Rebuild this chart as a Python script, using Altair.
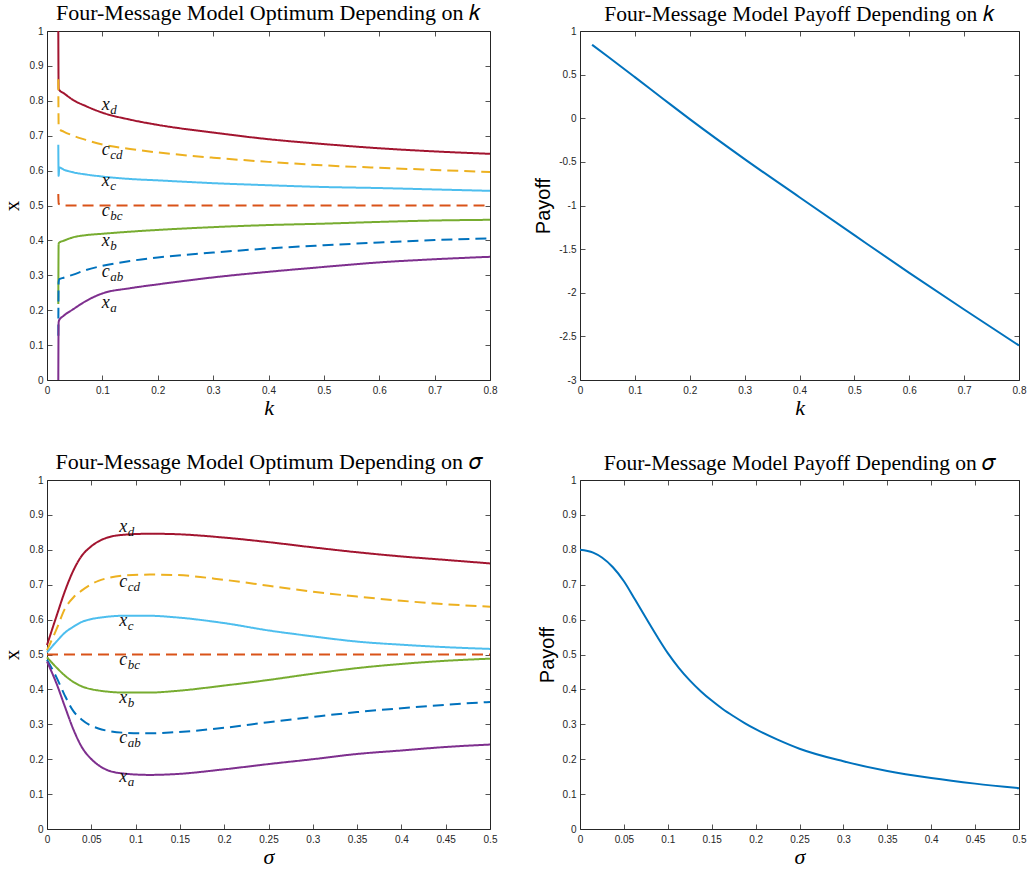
import altair as alt
import pandas as pd

# ---------------- data ----------------
SERIES = ["x_d", "c_cd", "x_c", "c_bc", "x_b", "c_ab", "x_a"]
MAIN = ["x", "c", "x", "c", "x", "c", "x"]
SUB = ["d", "cd", "c", "bc", "b", "ab", "a"]

# Optimum depending on k
k_vals = [0.0204, 0.0210, 0.0222, 0.03, 0.0475, 0.07, 0.1, 0.15, 0.2, 0.3, 0.4, 0.5, 0.6, 0.7, 0.8]
k_xd = [1.0, 0.835, 0.831, 0.822, 0.802, 0.785, 0.766, 0.746, 0.731, 0.709, 0.690, 0.676, 0.664, 0.655, 0.648]
k_ccd = [0.862, 0.730, 0.719, 0.712, 0.700, 0.688, 0.675, 0.662, 0.652, 0.637, 0.625, 0.615, 0.608, 0.602, 0.596]
k_xc = [0.674, 0.585, 0.609, 0.603, 0.595, 0.589, 0.583, 0.576, 0.572, 0.564, 0.558, 0.553, 0.550, 0.546, 0.542]
k_cbc = [0.533, 0.505, 0.504, 0.500, 0.500, 0.500, 0.500, 0.500, 0.500, 0.500, 0.500, 0.500, 0.500, 0.500, 0.500]
k_xb = [0.218, 0.390, 0.394, 0.399, 0.409, 0.415, 0.419, 0.425, 0.430, 0.438, 0.444, 0.448, 0.453, 0.457, 0.459]
k_cab = [0.127, 0.280, 0.289, 0.293, 0.302, 0.315, 0.327, 0.341, 0.351, 0.365, 0.377, 0.386, 0.394, 0.401, 0.406]
k_xa = [0.0, 0.165, 0.172, 0.184, 0.203, 0.226, 0.248, 0.263, 0.274, 0.294, 0.310, 0.324, 0.337, 0.346, 0.353]
k_label_x = [0.099] * 7
k_label_y = [0.774, 0.645, 0.557, 0.469, 0.385, 0.294, 0.205]

# Optimum depending on sigma
s_vals = [0, 0.011, 0.020, 0.030, 0.039, 0.049, 0.058, 0.067, 0.086, 0.116, 0.143,
          0.2, 0.25, 0.3, 0.35, 0.4, 0.45, 0.5]
s_xd = [0.527, 0.612, 0.680, 0.742, 0.782, 0.808, 0.824, 0.834, 0.843, 0.846, 0.845,
        0.835, 0.822, 0.807, 0.793, 0.781, 0.771, 0.761]
s_ccd = [0.512, 0.574, 0.630, 0.664, 0.683, 0.700, 0.711, 0.718, 0.726, 0.729, 0.728,
         0.714, 0.697, 0.680, 0.666, 0.654, 0.644, 0.637]
s_xc = [0.506, 0.538, 0.562, 0.580, 0.593, 0.601, 0.605, 0.608, 0.611, 0.611, 0.607,
        0.590, 0.569, 0.552, 0.537, 0.528, 0.521, 0.516]
s_cbc = [0.500] * 18
s_xb = [0.492, 0.462, 0.440, 0.421, 0.409, 0.401, 0.397, 0.394, 0.391, 0.391, 0.395,
        0.411, 0.427, 0.445, 0.461, 0.473, 0.482, 0.488]
s_cab = [0.485, 0.433, 0.383, 0.337, 0.314, 0.297, 0.288, 0.282, 0.276, 0.274, 0.277,
         0.290, 0.306, 0.321, 0.335, 0.346, 0.356, 0.364]
s_xa = [0.480, 0.415, 0.352, 0.284, 0.236, 0.203, 0.183, 0.170, 0.159, 0.155, 0.157,
        0.171, 0.186, 0.200, 0.215, 0.225, 0.235, 0.242]
s_label_x = [0.0816] * 7
s_label_y = [0.851, 0.692, 0.581, 0.469, 0.361, 0.246, 0.134]

# Payoff depending on k
pk_k = [0.022, 0.05, 0.1, 0.15, 0.2, 0.3, 0.4, 0.5, 0.6, 0.7, 0.8]
pk_pay = [0.842, 0.710, 0.471, 0.230, -0.010, -0.468, -0.905, -1.340, -1.772, -2.192, -2.605]

# Payoff depending on sigma
ps_s = [0, 0.015, 0.025, 0.0375, 0.05, 0.0625, 0.075, 0.0875, 0.1, 0.1125, 0.125, 0.1375,
        0.15, 0.1625, 0.175, 0.1875, 0.2, 0.225, 0.25, 0.3, 0.35, 0.4, 0.45, 0.5]
ps_pay = [0.800, 0.792, 0.778, 0.750, 0.710, 0.658, 0.605, 0.553, 0.504, 0.462, 0.426, 0.395,
          0.368, 0.344, 0.323, 0.3035, 0.286, 0.256, 0.230, 0.194, 0.166, 0.146, 0.130, 0.117]

# tick values
ticks_k = [0, 0.1, 0.2, 0.3, 0.4, 0.5, 0.6, 0.7, 0.8]
ticks_s = [0, 0.05, 0.1, 0.15, 0.2, 0.25, 0.3, 0.35, 0.4, 0.45, 0.5]
ticks_01 = [0, 0.1, 0.2, 0.3, 0.4, 0.5, 0.6, 0.7, 0.8, 0.9, 1]
ticks_pk = [-3, -2.5, -2, -1.5, -1, -0.5, 0, 0.5, 1]

# ---------------- styling ----------------
AX = "#262626"
LINE_COLORS = ["#A2142F", "#EDB120", "#4DBEEE", "#D95319", "#77AC30", "#0072BD", "#7E2F8E"]
DASHES = [[1, 0], [11, 6], [1, 0], [11, 6], [1, 0], [11, 6], [1, 0]]
SERIF = "Liberation Serif"
SANS = "Liberation Sans"
W_L, W_R, H = 443, 439, 349


def long_df(xs, cols):
    rows = []
    for name, ys in zip(SERIES, cols):
        for i, (x, y) in enumerate(zip(xs, ys)):
            rows.append({"x": x, "y": y, "series": name, "i": i})
    return pd.DataFrame(rows)


def label_df(xs, ys):
    return pd.DataFrame({"x": xs, "y": ys, "main": MAIN, "sub": SUB})


def tick_common():
    return dict(offset=-5, tickSize=5, tickColor=AX, tickWidth=0.8, domain=False, grid=False)


def x_axis(values, title):
    return alt.Axis(orient="bottom", values=values, labelExpr="'' + datum.value",
                    labelFont=SANS, labelFontSize=10, labelColor=AX, labelPadding=5,
                    labelFlush=False, labelOverlap=False, title=title, titleFont=SERIF,
                    titleFontSize=22, titleFontStyle="italic", titleFontWeight="normal",
                    titleColor="black", titlePadding=2, **tick_common())


def y_axis(values, title, font, size, pad):
    return alt.Axis(orient="left", values=values, labelExpr="'' + datum.value",
                    labelFont=SANS, labelFontSize=10, labelColor=AX, labelPadding=4,
                    labelOverlap=False, title=title, titleFont=font, titleFontSize=size,
                    titleFontWeight="normal", titleColor="black", titlePadding=pad,
                    **tick_common())


def frame_layer(df, xs, ys, xv, yv):
    return alt.Chart(df).mark_point(opacity=0, size=1).encode(
        x=alt.X("x:Q", scale=xs, axis=alt.Axis(orient="top", values=xv, labels=False,
                                                title=None, **tick_common())),
        y=alt.Y("y:Q", scale=ys, axis=alt.Axis(orient="right", values=yv, labels=False,
                                                title=None, **tick_common())),
    )


def title(text, size):
    return alt.TitleParams(text=text, font=SERIF, fontSize=size, fontWeight="normal",
                           color="black", offset=1, anchor="middle")


def optimum_panel(xs, cols, lx, ly, xdom, xticks, xtitle, ttl):
    df = long_df(xs, cols)
    lab = label_df(lx, ly)
    xsc = alt.Scale(domain=xdom, nice=False, zero=False)
    ysc = alt.Scale(domain=[0, 1], nice=False, zero=False)
    lines = alt.Chart(df).mark_line(strokeWidth=2, interpolate="monotone").encode(
        x=alt.X("x:Q", scale=xsc, axis=x_axis(xticks, xtitle)),
        y=alt.Y("y:Q", scale=ysc, axis=y_axis(ticks_01, "x", SERIF, 21, 7)),
        color=alt.Color("series:N", scale=alt.Scale(domain=SERIES, range=LINE_COLORS), legend=None),
        strokeDash=alt.StrokeDash("series:N", scale=alt.Scale(domain=SERIES, range=DASHES), legend=None),
        detail="series:N",
        order="i:Q",
    )
    frame = frame_layer(df, xsc, ysc, xticks, ticks_01)
    main = alt.Chart(lab).mark_text(align="left", baseline="alphabetic", font=SERIF,
                                    fontStyle="italic", fontSize=18, color="#111111").encode(
        x=alt.X("x:Q", scale=xsc, axis=None), y=alt.Y("y:Q", scale=ysc, axis=None), text="main:N")
    sub = alt.Chart(lab).mark_text(align="left", baseline="alphabetic", font=SERIF,
                                   fontStyle="italic", fontSize=13, dx=8.5, dy=4,
                                   color="#111111").encode(
        x=alt.X("x:Q", scale=xsc, axis=None), y=alt.Y("y:Q", scale=ysc, axis=None), text="sub:N")
    return alt.layer(lines, frame, main, sub).resolve_axis(
        x="independent", y="independent").properties(width=W_L, height=H, title=title(ttl, 22))


def payoff_panel(xs, ys, xdom, ydom, xticks, yticks, xtitle, ttl):
    df = pd.DataFrame({"x": xs, "y": ys})
    xsc = alt.Scale(domain=xdom, nice=False, zero=False)
    ysc = alt.Scale(domain=ydom, nice=False, zero=False)
    line = alt.Chart(df).mark_line(strokeWidth=2, color="#0072BD", interpolate="monotone").encode(
        x=alt.X("x:Q", scale=xsc, axis=x_axis(xticks, xtitle)),
        y=alt.Y("y:Q", scale=ysc, axis=y_axis(yticks, "Payoff", SANS, 20, 5)),
    )
    frame = frame_layer(df, xsc, ysc, xticks, yticks)
    return alt.layer(line, frame).resolve_axis(
        x="independent", y="independent").properties(width=W_R, height=H, title=title(ttl, 21.5))


tl = optimum_panel(k_vals, [k_xd, k_ccd, k_xc, k_cbc, k_xb, k_cab, k_xa], k_label_x, k_label_y,
                   [0, 0.8], ticks_k, "k", "Four-Message Model Optimum Depending on 𝑘")
tr = payoff_panel(pk_k, pk_pay, [0, 0.8], [-3, 1], ticks_k, ticks_pk, "k",
                  "Four-Message Model Payoff Depending on 𝑘")
bl = optimum_panel(s_vals, [s_xd, s_ccd, s_xc, s_cbc, s_xb, s_cab, s_xa], s_label_x, s_label_y,
                   [0, 0.5], ticks_s, "σ", "Four-Message Model Optimum Depending on 𝜎")
br = payoff_panel(ps_s, ps_pay, [0, 0.5], [0, 1], ticks_s, ticks_01, "σ",
                  "Four-Message Model Payoff Depending on 𝜎")

chart = alt.concat(tl, tr, bl, br, columns=2, spacing={"row": 100, "column": 90},
                   bounds="flush").properties(
    padding={"left": 0, "top": 1, "right": 0, "bottom": 0},
    background="white",
).configure_view(stroke=AX, strokeWidth=1)

chart.save("out.html", embed_options={"renderer": "svg", "actions": False})
